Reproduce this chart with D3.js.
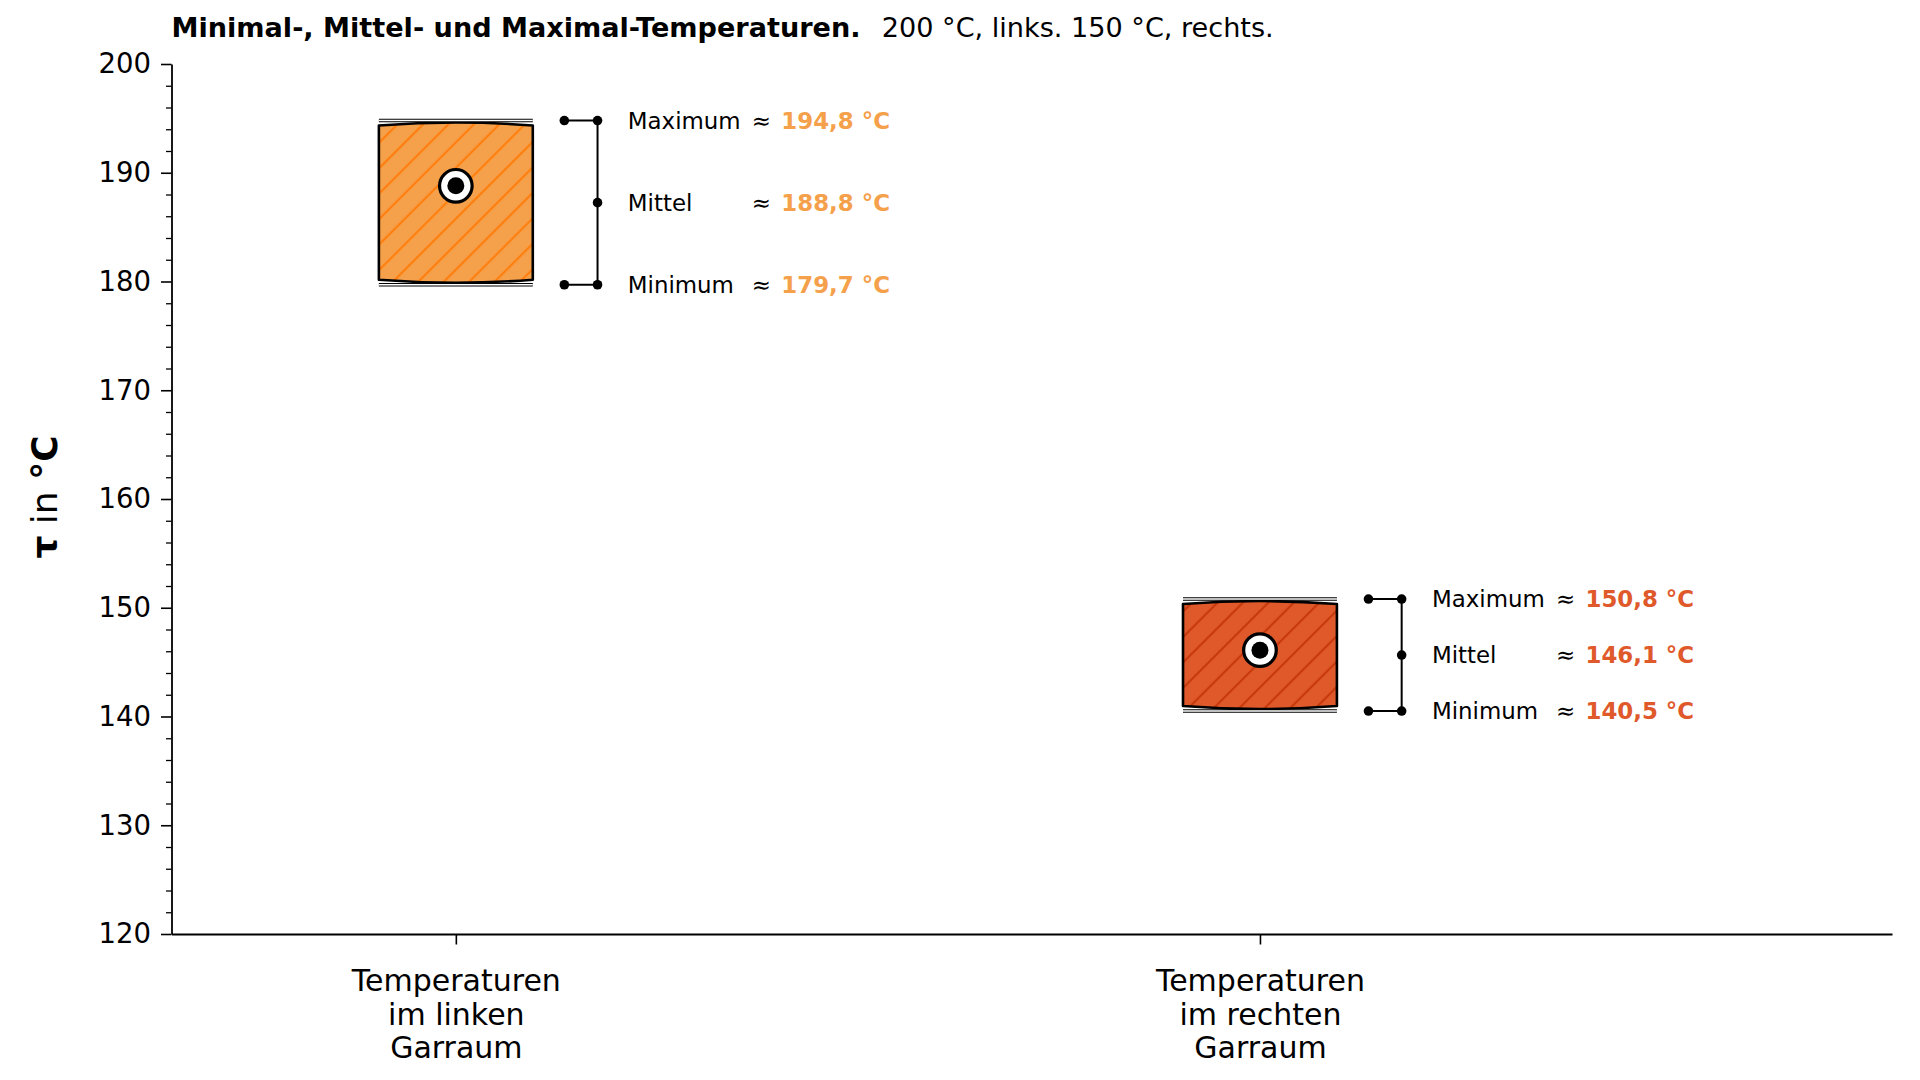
<!DOCTYPE html>
<html>
<head>
<meta charset="utf-8">
<script src="https://cdn.jsdelivr.net/npm/d3@7"></script>
<style>
  body { margin: 0; background: #fff; }
  svg { display: block; font-family: "DejaVu Sans", sans-serif; }
</style>
</head>
<body>
<svg id="chart" width="1920" height="1080"></svg>
<script>
// data
const categories = ['Temperaturen\nim linken\nGarraum', 'Temperaturen\nim rechten\nGarraum'];
const minValues = [179.7, 140.5];
const meanValues = [188.8, 146.1];
const maxValues = [194.8, 150.8];
const yTickValues = [120, 130, 140, 150, 160, 170, 180, 190, 200];
const statLabels = ['Maximum', 'Mittel', 'Minimum'];

const fillColors = ['#f5a04b', '#e0592b'];
const hatchColors = ['#ff7f0e', '#c8390c'];

const svg = d3.select('#chart');
const de = d3.formatLocale({ decimal: ',', thousands: '.', grouping: [3], currency: ['', ' €'] });
const fmt = de.format('.1f');

const x = d3.scaleLinear().domain([-0.3536, 1.786]).range([171.5, 1892]);
const y = d3.scaleLinear().domain([120, 200]).range([934, 64]);
const boxHalf = 0.0957; // half box width in category units

// hatch patterns
const defs = svg.append('defs');
categories.forEach((c, i) => {
    const p = defs.append('pattern')
        .attr('id', 'hatch' + i)
        .attr('patternUnits', 'userSpaceOnUse')
        .attr('width', 18).attr('height', 18)
        .attr('patternTransform', 'rotate(45)');
    p.append('rect').attr('width', 18).attr('height', 18).attr('fill', fillColors[i]);
    p.append('line').attr('x1', 9).attr('x2', 9).attr('y1', 0).attr('y2', 18)
        .attr('stroke', hatchColors[i]).attr('stroke-width', 2.2);
});

// minor ticks
const minorTicks = y.ticks(40).filter(v => v % 10 !== 0);
svg.append('g')
    .attr('transform', 'translate(' + x.range()[0] + ',0)')
    .call(d3.axisLeft(y).tickValues(minorTicks).tickSize(5.5).tickFormat(''))
    .call(g => g.select('.domain').remove())
    .selectAll('line').attr('stroke-width', 1.3);

// y axis
const yAxis = svg.append('g')
    .attr('transform', 'translate(' + x.range()[0] + ',0)')
    .call(d3.axisLeft(y).tickValues(yTickValues).tickSize(10.5).tickPadding(10).tickSizeOuter(0));
yAxis.select('.domain').attr('stroke-width', 1.8);
yAxis.selectAll('.tick line').attr('stroke-width', 1.6);
yAxis.selectAll('.tick text')
    .attr('font-size', 27.5).attr('fill', '#000')
    .attr('font-family', '"DejaVu Sans", sans-serif');

// x axis
const xAxis = svg.append('g')
    .attr('transform', 'translate(0,' + y.range()[0] + ')')
    .call(d3.axisBottom(x).tickValues([0, 1]).tickSize(10.5).tickSizeOuter(0).tickFormat(''));
xAxis.select('.domain').attr('stroke-width', 1.8);
xAxis.selectAll('.tick line').attr('stroke-width', 1.6);
xAxis.selectAll('.tick').each(function (d) {
    const t = d3.select(this).append('text')
        .attr('text-anchor', 'middle')
        .attr('font-size', 30)
        .attr('fill', '#000')
        .attr('font-family', '"DejaVu Sans", sans-serif');
    categories[d].split('\n').forEach((line, k) => {
        t.append('tspan').attr('x', 0).attr('y', 57 + k * 33.5).text(line);
    });
});

// y label
const yLabel = svg.append('text')
    .attr('transform', 'translate(57,497) rotate(-90)')
    .attr('text-anchor', 'middle')
    .attr('font-size', 36)
    .style('white-space', 'pre');
yLabel.append('tspan').attr('font-weight', 'bold').text('τ');
yLabel.append('tspan').text(' in ');
yLabel.append('tspan').attr('font-weight', 'bold').text('°C');

// title
const title = svg.append('text')
    .attr('x', 171.5).attr('y', 37)
    .attr('font-size', 27.1)
    .style('white-space', 'pre');
title.append('tspan').attr('font-weight', 'bold').text('Minimal-, Mittel- und Maximal-Temperaturen.');
title.append('tspan').attr('dx', 4).text('  200 °C, links. 150 °C, rechts.');

// boxes
categories.forEach((c, i) => {
    const x0 = x(i - boxHalf), x1 = x(i + boxHalf), xc = x(i);
    const yt = y(maxValues[i]), yb = y(minValues[i]);
    const g = svg.append('g');

    const path = d3.path();
    path.moveTo(x0, yt + 5);
    path.quadraticCurveTo(xc, yt - 1, x1, yt + 5);
    path.lineTo(x1, yb - 5);
    path.quadraticCurveTo(xc, yb + 1, x0, yb - 5);
    path.closePath();
    g.append('path').attr('d', path.toString())
        .attr('fill', 'url(#hatch' + i + ')')
        .attr('stroke', '#000').attr('stroke-width', 2.6)
        .attr('stroke-linejoin', 'round');

    [yt, yb].forEach(yy => {
        g.append('line').attr('x1', x0).attr('x2', x1).attr('y1', yy).attr('y2', yy)
            .attr('stroke', '#000').attr('stroke-width', 3.6);
        g.append('line').attr('x1', x0).attr('x2', x1).attr('y1', yy).attr('y2', yy)
            .attr('stroke', '#fff').attr('stroke-width', 1.4);
    });

    const ym = y(meanValues[i]);
    g.append('circle').attr('cx', xc).attr('cy', ym).attr('r', 16.3)
        .attr('fill', '#fff').attr('stroke', '#000').attr('stroke-width', 3.2);
    g.append('circle').attr('cx', xc).attr('cy', ym).attr('r', 8.5).attr('fill', '#000');

    // bracket annotation
    const bx0 = xc + 108.5, bx1 = xc + 141.7;
    const ymid = (yt + yb) / 2;
    g.append('line').attr('x1', bx1).attr('x2', bx1).attr('y1', yt).attr('y2', yb)
        .attr('stroke', '#000').attr('stroke-width', 2);
    [yt, yb].forEach(yy => {
        g.append('line').attr('x1', bx0).attr('x2', bx1).attr('y1', yy).attr('y2', yy)
            .attr('stroke', '#000').attr('stroke-width', 2);
        g.append('circle').attr('cx', bx0).attr('cy', yy).attr('r', 4.8);
        g.append('circle').attr('cx', bx1).attr('cy', yy).attr('r', 4.8);
    });
    g.append('circle').attr('cx', bx1).attr('cy', ymid).attr('r', 4.8);

    const vals = [maxValues[i], meanValues[i], minValues[i]];
    const rowsY = [yt, ymid, yb];
    statLabels.forEach((lab, k) => {
        const row = g.append('g').attr('font-size', 22.9);
        row.append('text').attr('x', xc + 172).attr('y', rowsY[k]).attr('dy', '0.36em').text(lab);
        row.append('text').attr('x', xc + 296).attr('y', rowsY[k]).attr('dy', '0.36em').text('≈');
        row.append('text').attr('x', xc + 325.5).attr('y', rowsY[k]).attr('dy', '0.36em')
            .attr('font-weight', 'bold').attr('fill', fillColors[i])
            .text(fmt(vals[k]) + ' °C');
    });
});
</script>
</body>
</html>
